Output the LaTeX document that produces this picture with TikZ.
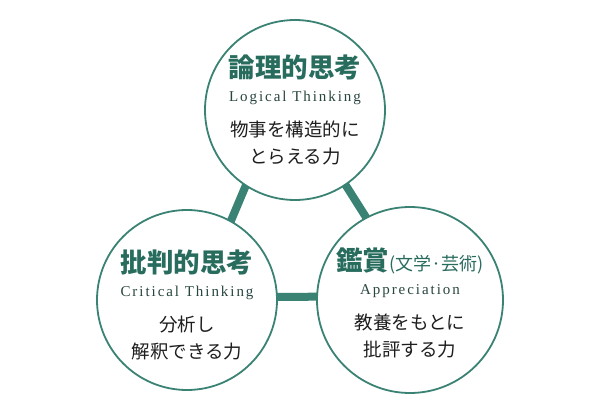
\documentclass[tikz,border=0pt]{standalone}
\usepackage{fontspec}
\setmainfont{Liberation Serif}
\newfontfamily\jpfont{Noto Sans CJK JP}
\newfontfamily\enfont{Liberation Serif}[LetterSpace=13]
\usetikzlibrary{positioning, backgrounds}
\definecolor{ringcol}{RGB}{58,130,115}
\definecolor{titlecol}{RGB}{40,108,94}
\definecolor{subcol}{RGB}{40,70,64}
\definecolor{bodycol}{RGB}{30,30,30}
\newcommand{\headjp}[1]{{\bfseries\fontsize{26.5}{26.5}\selectfont\textcolor{titlecol}{#1}}}
\newcommand{\headen}[1]{{\enfont\fontsize{15}{15}\selectfont\textcolor{subcol}{#1}}}

\begin{document}
\begin{tikzpicture}[
    x=1pt, y=1pt,
    ring/.style={
        circle,
        draw=ringcol,
        line width=1.8pt,
        fill=white,
        minimum size=180pt,
        inner sep=0pt
    },
    link/.style={
        draw=ringcol,
        line width=8pt,
        shorten <=-6pt,
        shorten >=-6pt
    },
    block/.style={
        align=center,
        inner sep=0pt,
        text=bodycol,
        font=\jpfont\fontsize{18.5}{26.5}\selectfont
    }
]
\useasboundingbox (0,0) rectangle (600,400);

% Circles
\node[ring] (logic) at (295,290) {};
\node[ring] (critical) at (187,100) {};
\node[ring, minimum size=186pt] (apprec) at (410,100) {};

% Connectors
\begin{scope}[on background layer]
\draw[link] (logic.237) -- (critical.61);
\draw[link] (logic.304) -- (apprec.118);
\draw[link] (critical.2) -- (apprec.178);
\end{scope}

% Logical Thinking
\node[block] (logic-text) at (logic) {
    \headjp{論理的思考}\\[-3pt]
    \headen{Logical Thinking}\\[9pt]
    物事を構造的に\\
    とらえる力
};

% Critical Thinking
\node[block] (critical-text) at ([yshift=-5pt]critical.center) {
    \headjp{批判的思考}\\[-3pt]
    \headen{Critical Thinking}\\[9pt]
    分析し\\
    解釈できる力
};

% Appreciation
\node[block] (apprec-text) at ([yshift=-3pt]apprec.center) {
    \headjp{鑑賞{\mdseries\fontsize{18}{18}\selectfont(文学·芸術)}}\\[-3pt]
    \headen{Appreciation}\\[9pt]
    教養をもとに\\
    批評する力
};

\end{tikzpicture}
\end{document}
